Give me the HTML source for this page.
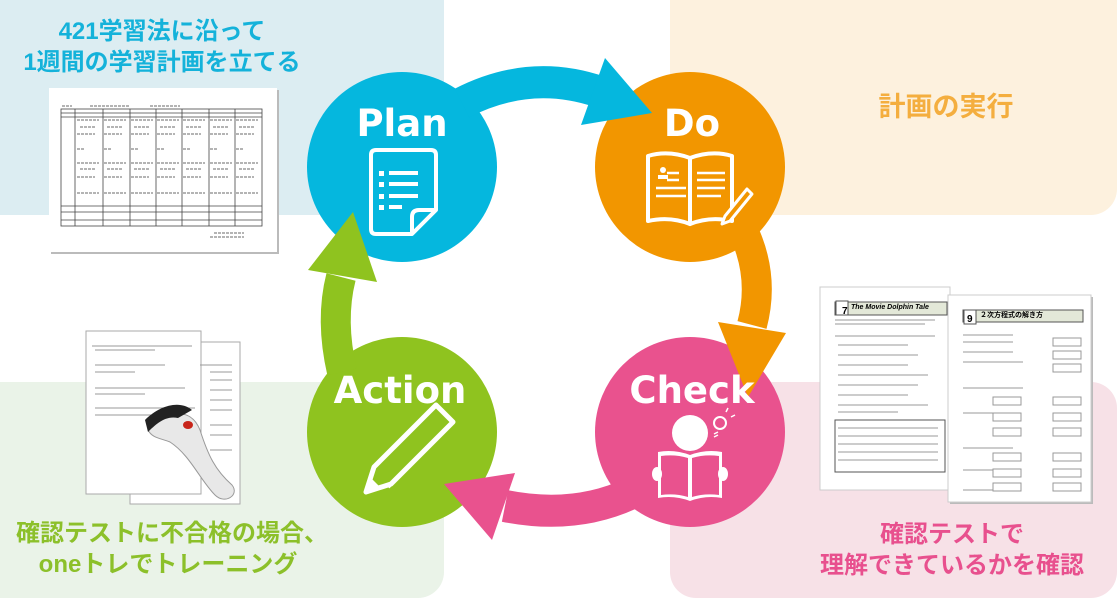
<!DOCTYPE html>
<html><head><meta charset="utf-8"><style>
html,body{margin:0;padding:0;background:#fff;}
body{width:1119px;height:600px;position:relative;overflow:hidden;font-family:"Liberation Sans","Noto Sans CJK JP",sans-serif;}
svg{position:absolute;left:0;top:0;}
</style></head><body>
<svg width="1119" height="600" viewBox="0 0 1119 600" xmlns="http://www.w3.org/2000/svg" font-family="'Liberation Sans','Noto Sans CJK JP',sans-serif">
<!-- panels -->
<rect x="-30" y="-30" width="474" height="245" rx="26" fill="#dcedf2"/>
<rect x="670" y="-30" width="447" height="245" rx="26" fill="#fdf1de"/>
<rect x="-30" y="382" width="474" height="216" rx="26" fill="#eaf3e8"/>
<rect x="670" y="382" width="447" height="216" rx="26" fill="#f7e1e7"/>

<!-- panel texts -->
<g font-weight="bold" font-size="24" text-anchor="middle">
<text x="162" y="39" fill="#14b2da">421学習法に沿って</text>
<text x="162" y="70" fill="#14b2da">1週間の学習計画を立てる</text>
<text x="946" y="116" fill="#f4ae3f" font-size="27">計画の実行</text>
<text x="172" y="541" fill="#8cc02a">確認テストに不合格の場合、</text>
<text x="168" y="572" fill="#8cc02a">oneトレでトレーニング</text>
<text x="952" y="542" fill="#e8508e">確認テストで</text>
<text x="952" y="573" fill="#e8508e">理解できているかを確認</text>
</g>

<!-- top-left doc -->
<rect x="51" y="90" width="228" height="164" fill="#bbb"/>
<rect x="49" y="88" width="228" height="164" fill="#fff"/>
<g stroke="#444" stroke-width="0.8" fill="none">
<rect x="61" y="109" width="201" height="117"/>
<line x1="61" y1="113" x2="262" y2="113"/><line x1="61" y1="117" x2="262" y2="117"/>
<line x1="61" y1="206" x2="262" y2="206"/><line x1="61" y1="212" x2="262" y2="212"/><line x1="61" y1="220" x2="262" y2="220"/>
<line x1="75" y1="109" x2="75" y2="226"/><line x1="103" y1="109" x2="103" y2="226"/><line x1="130" y1="109" x2="130" y2="226"/><line x1="156" y1="109" x2="156" y2="226"/><line x1="182" y1="109" x2="182" y2="226"/><line x1="209" y1="109" x2="209" y2="226"/><line x1="235" y1="109" x2="235" y2="226"/>
</g>
<g stroke="#888" stroke-width="1.2" stroke-dasharray="3 1">
<path d="M77 120h22M104 120h22M131 120h22M157 120h22M183 120h22M210 120h22M236 120h22"/>
<path d="M80 127h16M107 127h16M134 127h16M160 127h16M186 127h16M213 127h16M239 127h16"/>
<path d="M77 134h18M104 134h18M131 134h18M157 134h18M183 134h18M210 134h18M236 134h18"/>
<path d="M77 149h8M104 149h8M131 149h8M157 149h8M183 149h8M210 149h8M236 149h8"/>
<path d="M77 163h22M104 163h22M131 163h22M157 163h22M183 163h22M210 163h22M236 163h22"/>
<path d="M80 169h16M107 169h16M134 169h16M160 169h16M186 169h16M213 169h16M239 169h16"/>
<path d="M77 177h18M104 177h18M131 177h18M157 177h18M183 177h18M210 177h18M236 177h18"/>
<path d="M77 193h22M104 193h22M131 193h22M157 193h22M183 193h22M210 193h22M236 193h22"/>
<path d="M62 106h10M90 106h40M150 106h30M214 233h30M210 237h34"/>
</g>

<!-- bottom-left docs -->
<rect x="130" y="342" width="110" height="162" fill="#fff" stroke="#aaa"/>
<rect x="86" y="331" width="115" height="163" fill="#fff" stroke="#aaa"/>
<g stroke="#999" stroke-width="1">
<path d="M92 346h100M95 350h60M95 365h70M95 372h40M95 388h90M95 394h50M95 408h100M95 415h70M200 365h32M210 372h22M210 380h22M210 390h22M210 400h22M210 410h22M210 425h22M210 435h22M210 450h22"/>
</g>
<!-- pen -->
<path d="M148 430 C165 412,190 405,200 430 C208 455,215 470,232 485 C240 495,225 505,215 495 C200 480,190 455,170 442 C160 438,152 438,148 430Z" fill="#e8e8e8" stroke="#999"/>
<path d="M145 420 C160 405,180 400,192 410 L178 418 C165 415,155 425,148 432Z" fill="#222"/>
<ellipse cx="188" cy="425" rx="5" ry="4" fill="#c8251a"/>

<!-- bottom-right docs -->
<rect x="820" y="287" width="130" height="203" fill="#fff" stroke="#ccc"/>
<rect x="950" y="297" width="143" height="207" fill="#bbb"/>
<rect x="948" y="295" width="143" height="207" fill="#fff" stroke="#ccc"/>
<g stroke="#555" stroke-width="1" fill="none">
<rect x="835" y="302" width="112" height="13" fill="#e3e8d8"/>
<rect x="836" y="301" width="12" height="14" fill="#fff"/>
<rect x="963" y="310" width="120" height="12" fill="#e3e8d8"/>
<rect x="964" y="310" width="12" height="14" fill="#fff"/>
<rect x="835" y="420" width="110" height="52"/>
</g>
<text x="842" y="314" font-size="10" font-weight="bold" fill="#000">7</text>
<text x="851" y="309" font-size="7" font-weight="bold" font-style="italic" fill="#000">The Movie Dolphin Tale</text>
<text x="967" y="322" font-size="10" font-weight="bold" fill="#000">9</text>
<text x="980" y="317" font-size="7" font-weight="bold" fill="#000">２次方程式の解き方</text>
<g stroke="#999" stroke-width="1">
<path d="M835 320h100M835 324h90M835 336h100M838 345h70M838 355h80M838 365h70M838 375h90M838 385h80M838 395h70M838 405h90M838 412h60M838 428h100M838 436h100M838 444h100M838 452h100M838 460h100"/>
<path d="M963 335h50M963 342h50M963 352h50M963 362h60M963 388h60M963 413h50M963 448h50M963 470h40M963 490h40"/>
</g>
<g stroke="#999" fill="#fff">
<rect x="1053" y="338" width="28" height="8"/><rect x="1053" y="351" width="28" height="8"/><rect x="1053" y="364" width="28" height="8"/>
<rect x="993" y="397" width="28" height="8"/><rect x="1053" y="397" width="28" height="8"/>
<rect x="993" y="413" width="28" height="8"/><rect x="1053" y="413" width="28" height="8"/>
<rect x="993" y="428" width="28" height="8"/><rect x="1053" y="428" width="28" height="8"/>
<rect x="993" y="453" width="28" height="8"/><rect x="1053" y="453" width="28" height="8"/>
<rect x="993" y="469" width="28" height="8"/><rect x="1053" y="469" width="28" height="8"/>
<rect x="993" y="483" width="28" height="8"/><rect x="1053" y="483" width="28" height="8"/>
</g>

<!-- circles -->
<circle cx="402" cy="167" r="95" fill="#05b7de"/>
<circle cx="690" cy="167" r="95" fill="#f29600"/>
<circle cx="690" cy="432" r="95" fill="#e9528e"/>
<circle cx="402" cy="432" r="95" fill="#8fc31f"/>

<!-- arrows -->
<path d="M462 103 Q530 68 600 92" stroke="#05b7de" stroke-width="32" fill="none"/>
<polygon points="605,58 652,113 581,125" fill="#05b7de"/>
<path d="M746 237 Q764 280 752 325" stroke="#f29600" stroke-width="30" fill="none"/>
<polygon points="718,322 786,333 748,397" fill="#f29600"/>
<path d="M632 493 Q575 520 505 506" stroke="#e9528e" stroke-width="32" fill="none"/>
<polygon points="515,473 492,540 444,484" fill="#e9528e"/>
<path d="M341 277 Q330 320 342 372" stroke="#8fc31f" stroke-width="30" fill="none"/>
<polygon points="353,212 308,270 377,282" fill="#8fc31f"/>

<!-- labels -->
<g fill="#fff" font-size="37" font-weight="bold" text-anchor="middle" font-family="'DejaVu Sans','Liberation Sans',sans-serif">
<text x="402" y="136">Plan</text>
<text x="692" y="136">Do</text>
<text x="400" y="403">Action</text>
<text x="692" y="403">Check</text>
</g>

<!-- Plan icon -->
<g stroke="#fff" stroke-width="4" fill="none" stroke-linejoin="round">
<path d="M371 155 q0-5 5-5h55q5 0 5 5v55l-24 24h-36q-5 0-5-5z"/>
<path d="M436 210h-17q-7 0 -7 7v17" />
</g>
<g fill="#fff"><rect x="379" y="171" width="5" height="5"/><rect x="389" y="171" width="29" height="4"/><rect x="379" y="182" width="5" height="5"/><rect x="389" y="182" width="29" height="4"/><rect x="379" y="194" width="5" height="5"/><rect x="389" y="194" width="29" height="4"/><rect x="379" y="205" width="5" height="5"/><rect x="389" y="205" width="13" height="4"/></g>

<!-- Do icon -->
<g stroke="#fff" stroke-width="4" fill="none" stroke-linejoin="round">
<path d="M690 158 q-22 -8 -42 -2 v65 q22 -5 42 3 z"/>
<path d="M690 158 q22 -8 42 -2 v65 q-22 -5 -42 3 z"/>
</g>
<g stroke="#fff" stroke-width="2.5"><path d="M667 173h12M667 180h12M656 188h30M656 196h30M697 173h28M697 180h28M697 188h28M697 196h24"/></g>
<circle cx="663" cy="170" r="3" fill="#fff"/><rect x="658" y="175" width="10" height="4" fill="#fff"/>
<path d="M725 216 l22 -27 5 5 -22 27 -8 3z" fill="#f29600" stroke="#fff" stroke-width="3" stroke-linejoin="round"/>

<!-- Check icon -->
<circle cx="690" cy="433" r="18" fill="#fff"/>
<path d="M658 452 v46 q16 -3 32 3 q16 -6 32 -3 v-46 q-16 -3 -32 3 q-16 -6 -32 -3z" fill="#fff"/>
<path d="M661 456 v39 q14 -2 27 2 v-39 q-13 -4 -27 -2z M692 458 q13 -4 27 -2 v39 q-14 -2 -27 2z" fill="#e9528e"/>
<ellipse cx="657" cy="474" rx="5" ry="7" fill="#fff"/><ellipse cx="723" cy="474" rx="5" ry="7" fill="#fff"/>
<circle cx="720" cy="423" r="6" fill="none" stroke="#fff" stroke-width="2"/>
<path d="M726 412l2 -4M731 417l4 -2M714 434l4 -2M714 437l4 -2" stroke="#fff" stroke-width="1.5"/>

<!-- Action icon -->
<path d="M366 492 l8 -25 62 -62 17 17 -62 62z" fill="none" stroke="#fff" stroke-width="5" stroke-linejoin="round"/>
<path d="M388 487 l50 -50" stroke="#fff" stroke-width="4"/>
<path d="M366 492 l5 -14 9 9z" fill="#fff"/>
</svg>
</body></html>
